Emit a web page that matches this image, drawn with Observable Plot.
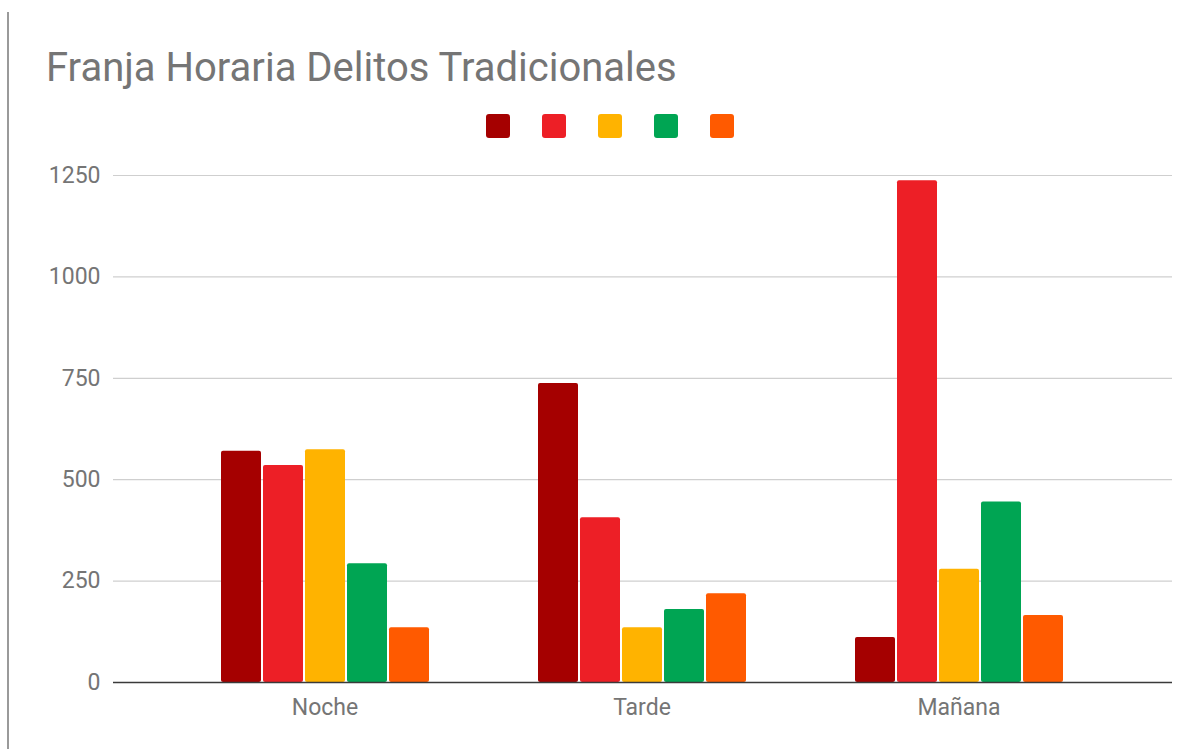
<!DOCTYPE html>
<html>
<head>
<meta charset="utf-8">
<script src="https://cdn.jsdelivr.net/npm/d3@7"></script>
<script src="https://cdn.jsdelivr.net/npm/@observablehq/plot@0.6"></script>
<style>
  html, body { margin: 0; padding: 0; background: #fff; }
  #page { position: relative; width: 1198px; height: 749px; overflow: hidden; font-family: Roboto, "Noto Sans", sans-serif; }
  #edge { position: absolute; left: 7px; top: 12px; bottom: 0; border-left: 2px solid #9a9a9a; }
  #title { position: absolute; left: 46px; top: 48px; margin: 0; font-size: 40px; line-height: 40px; font-weight: 400; color: #757575; white-space: nowrap; }
  #legend { position: absolute; left: 486px; top: 114px; display: flex; gap: 32px; }
  #legend span { display: block; width: 24px; height: 24px; border-radius: 3px; }
  .layer { position: absolute; left: 0; top: 150px; }
</style>
</head>
<body>
<div id="page">
  <div id="edge"></div>
  <h2 id="title">Franja Horaria Delitos Tradicionales</h2>
  <div id="legend"></div>
  <div id="gridLayer" class="layer"></div>
  <div id="barLayer" class="layer"></div>
</div>
<script>
// ---- Data ----
const categories = ["Noche", "Tarde", "Mañana"];
const series = ["Serie 1", "Serie 2", "Serie 3", "Serie 4", "Serie 5"];
const colors = ["#a50000", "#ed1f26", "#ffb300", "#00a553", "#ff5a00"];
const serie1 = [570, 737, 111];
const serie2 = [535, 406, 1237];
const serie3 = [574, 135, 279];
const serie4 = [293, 180, 445];
const serie5 = [135, 219, 165];
const yTicks = [0, 250, 500, 750, 1000, 1250];

const seriesValues = [serie1, serie2, serie3, serie4, serie5];
const rows = [];
series.forEach((s, i) => categories.forEach((c, j) => rows.push({category: c, series: s, value: seriesValues[i][j]})));

// ---- Legend (swatches only, as in the original) ----
const legend = document.getElementById("legend");
series.forEach((s, i) => {
  const sw = document.createElement("span");
  sw.style.background = colors[i];
  sw.title = s;
  legend.appendChild(sw);
});

const W = 1198, H = 599, MT = 25, MB = 67;
const font = {fontFamily: "Roboto, 'Noto Sans', sans-serif", fontSize: "23px", color: "#757575", background: "transparent", overflow: "visible"};

// ---- Layer 1: gridlines and y axis ----
const gridPlot = Plot.plot({
  width: W, height: H,
  marginLeft: 113, marginRight: 26, marginTop: MT, marginBottom: MB,
  style: font,
  y: {domain: [0, 1250]},
  marks: [
    Plot.ruleY(yTicks.filter(d => d > 0), {stroke: "#cfcfcf", strokeWidth: 1.2}),
    Plot.axisY({ticks: yTicks, tickSize: 0, tickPadding: 13, label: null, tickFormat: d => String(d)}),
  ]
});
document.getElementById("gridLayer").appendChild(gridPlot);

// ---- Layer 2: grouped bars, faceted by time band ----
const barPlot = Plot.plot({
  width: W, height: H,
  marginLeft: 166, marginRight: 81, marginTop: MT, marginBottom: MB,
  style: font,
  fx: {domain: categories, padding: 0},
  x: {domain: series, paddingInner: 0.055, paddingOuter: 1.235, axis: null},
  y: {domain: [0, 1250], axis: null},
  color: {domain: series, range: colors},
  marks: [
    Plot.barY(rows, {fx: "category", x: "series", y: "value", fill: "series", rx: 2}),
    Plot.axisFx({anchor: "bottom", tickSize: 0, tickPadding: 16, label: null}),
  ]
});
document.getElementById("barLayer").appendChild(barPlot);

// ---- Layer 3: baseline drawn over the bars ----
const basePlot = Plot.plot({
  width: W, height: H,
  marginLeft: 113, marginRight: 26, marginTop: MT, marginBottom: MB,
  style: font,
  y: {domain: [0, 1250], axis: null},
  marks: [Plot.ruleY([0], {stroke: "#3a3a3a", strokeWidth: 1.6})]
});
const baseLayer = document.createElement("div");
baseLayer.className = "layer";
baseLayer.appendChild(basePlot);
document.getElementById("page").appendChild(baseLayer);
</script>
</body>
</html>
